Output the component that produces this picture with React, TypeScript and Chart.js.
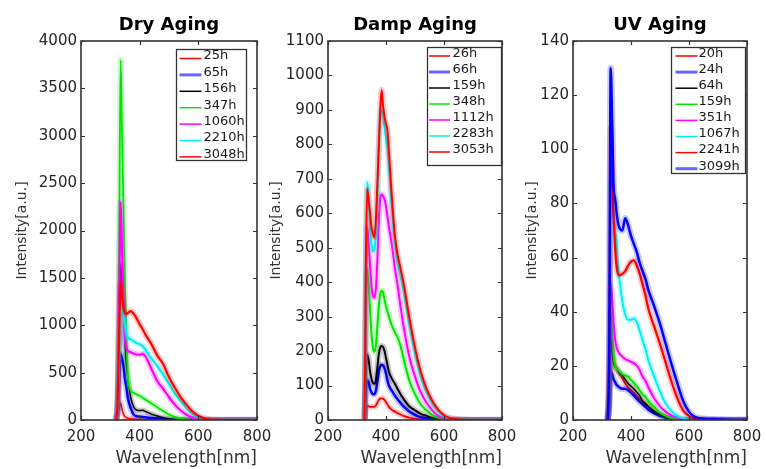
import React, { useEffect, useRef } from "react";
import { Chart, registerables } from "chart.js";
Chart.register(...registerables);

const FONT = "'DejaVu Sans', Verdana, sans-serif";
const W = 766;
const H = 469;
const Y_AXIS_W = 81;
const X_AXIS_H = 49;
const TICK = 4;
const TEXT_COLOR = "#262626";

// ---------- Dry Aging ----------
const dryWavelengths = [320, 325, 330, 335, 340, 345, 350, 355, 360, 370, 380, 390, 400, 410, 420, 440, 460, 480, 500, 520, 540, 560, 580, 600, 620, 640, 660, 700, 750, 800];
const dryLabels = ["25h", "65h", "156h", "347h", "1060h", "2210h", "3048h"];
const dry25h = [0, 50, 120, 180, 110, 60, 35, 25, 20, 14, 10, 8, 6, 5, 4, 3, 2, 1, 0, 0, 0, 0, 0, 0, 0, 0, 0, 0, 0, 0];
const dry65h = [0, 100, 400, 700, 650, 560, 430, 340, 230, 120, 55, 40, 35, 32, 28, 22, 15, 8, 4, 1, 0, 0, 0, 0, 0, 0, 0, 0, 0, 0];
const dry156h = [0, 150, 800, 1650, 1450, 1250, 800, 580, 430, 230, 135, 105, 100, 102, 90, 62, 42, 25, 12, 5, 2, 0, 0, 0, 0, 0, 0, 0, 0, 0];
const dry347h = [0, 300, 1800, 3800, 3000, 2200, 1400, 850, 450, 310, 285, 270, 255, 235, 215, 175, 135, 95, 58, 32, 15, 6, 2, 0, 0, 0, 0, 0, 0, 0];
const dry1060h = [0, 200, 1200, 2300, 1800, 1200, 850, 760, 730, 715, 700, 690, 690, 700, 670, 540, 410, 330, 240, 160, 100, 55, 28, 10, 3, 0, 0, 0, 0, 0];
const dry2210h = [0, 150, 700, 1200, 1170, 1100, 1000, 910, 870, 850, 830, 810, 800, 780, 740, 650, 570, 480, 380, 280, 200, 120, 65, 25, 8, 2, 0, 0, 0, 0];
const dry3048h = [0, 200, 900, 1450, 1300, 1180, 1130, 1120, 1130, 1150, 1120, 1070, 1010, 960, 900, 800, 680, 590, 450, 340, 240, 160, 90, 45, 18, 5, 2, 0, 0, 0];

// ---------- Damp Aging ----------
const dampWavelengths = [320, 326, 330, 335, 340, 345, 350, 355, 360, 365, 370, 375, 380, 385, 390, 395, 400, 405, 410, 420, 430, 440, 450, 460, 480, 500, 520, 540, 560, 580, 600, 620, 650, 700, 750, 800];
const dampLabels = ["26h", "66h", "159h", "348h", "1112h", "2283h", "3053h"];
const damp26h = [0, 0, 25, 40, 40, 38, 38, 38, 38, 42, 50, 58, 62, 63, 62, 58, 52, 45, 38, 30, 25, 20, 16, 12, 7, 4, 2, 1, 0, 0, 0, 0, 0, 0, 0, 0];
const damp66h = [0, 0, 80, 115, 110, 90, 80, 75, 75, 85, 110, 140, 155, 160, 158, 150, 135, 115, 100, 85, 72, 60, 50, 40, 25, 15, 8, 5, 2, 1, 0, 0, 0, 0, 0, 0];
const damp159h = [0, 0, 120, 190, 175, 140, 120, 108, 105, 115, 150, 190, 210, 215, 212, 200, 180, 160, 140, 120, 106, 90, 75, 62, 40, 28, 18, 12, 6, 3, 1, 0, 0, 0, 0, 0];
const damp348h = [0, 0, 250, 440, 400, 320, 250, 210, 198, 215, 270, 330, 365, 375, 370, 350, 330, 315, 300, 275, 255, 240, 215, 180, 115, 75, 45, 28, 14, 7, 2, 0, 0, 0, 0, 0];
const damp1112h = [0, 0, 300, 560, 520, 450, 390, 360, 355, 380, 460, 570, 640, 655, 650, 640, 620, 590, 560, 510, 445, 390, 330, 275, 185, 126, 80, 50, 28, 12, 5, 2, 0, 0, 0, 0];
const damp2283h = [0, 0, 400, 690, 650, 560, 510, 490, 495, 540, 640, 780, 880, 900, 880, 850, 820, 790, 740, 620, 520, 460, 420, 380, 280, 195, 125, 80, 48, 25, 12, 5, 2, 0, 0, 0];
const damp3053h = [0, 0, 400, 670, 640, 600, 560, 540, 530, 580, 680, 790, 900, 958, 910, 880, 860, 840, 780, 650, 540, 480, 440, 400, 300, 210, 140, 90, 55, 30, 14, 6, 2, 0, 0, 0];

// ---------- UV Aging ----------
const uvWavelengths = [320, 325, 330, 335, 340, 345, 350, 355, 360, 370, 380, 390, 400, 410, 420, 430, 440, 450, 460, 480, 500, 520, 540, 560, 580, 600, 620, 650, 700, 750, 800];
const uvLabels = ["20h", "24h", "64h", "159h", "351h", "1067h", "2241h", "3099h"];
const uv20h = [0, 7, 33, 26, 22, 20, 19, 18.5, 17, 15.5, 13.5, 12, 11, 10, 8.8, 7.8, 6.8, 6, 5, 3.2, 1.8, 1, 0.5, 0, 0, 0, 0, 0, 0, 0, 0];
const uv24h = [0, 5, 18, 17, 15, 14, 13, 12.5, 12, 11.5, 11.5, 11, 10, 9, 7.8, 6.8, 5.8, 4.8, 3.8, 2.5, 1.5, 0.8, 0.4, 0, 0, 0, 0, 0, 0, 0, 0];
const uv64h = [0, 7, 30, 25, 21, 19.5, 19, 18, 17.5, 16.5, 15, 13.5, 12.5, 11.5, 10.3, 9, 7, 6, 5, 3.2, 2, 1, 0.5, 0, 0, 0, 0, 0, 0, 0, 0];
const uv159h = [0, 8, 40, 33, 24, 20, 19, 18.5, 18, 17, 16.5, 16, 14.8, 13.6, 12.4, 11, 9.5, 8.5, 7, 4.8, 2.8, 1.5, 0.7, 0.3, 0, 0, 0, 0, 0, 0, 0];
const uv351h = [0, 10, 50, 45, 36, 30, 27, 25.5, 24.5, 23.5, 22.5, 22, 21.5, 21, 20, 18.5, 16, 14.5, 12, 8, 5, 3, 1.7, 0.8, 0.3, 0, 0, 0, 0, 0, 0];
const uv1067h = [0, 15, 88, 82, 75, 70, 65, 57, 52, 44, 39, 37, 37, 37.5, 36, 33, 29.5, 26, 22, 16, 10.5, 6, 3.3, 1.5, 0.6, 0.2, 0, 0, 0, 0, 0];
const uv2241h = [0, 20, 108, 90, 75, 64, 57, 54, 53.5, 54, 55, 57, 58.5, 59, 57, 54, 50, 46, 41, 34.5, 28, 21, 14, 8, 3.5, 1.5, 0.5, 0.2, 0, 0, 0];
const uv3099h = [0, 25, 130, 110, 86, 82, 77, 73, 71, 70, 74.5, 72, 68, 65, 62, 58, 55, 52, 48, 42, 35.5, 28, 20.5, 13.5, 7, 3, 1.2, 0.5, 0.2, 0, 0];

// ---------- Axes ----------
const xMin = 200;
const xMax = 800;
const xStep = 200;
const dryYMax = 4000;
const dryYStep = 500;
const dampYMax = 1100;
const dampYStep = 100;
const uvYMax = 140;
const uvYStep = 20;

// ---------- Styles ----------
const RED = "#ff0000";
const BLUE = "#0000ff";
const BLACK = "#000000";
const GREEN = "#00e600";
const MAGENTA = "#ff00ff";
const CYAN = "#00f0f0";

type Series = { label: string; values: number[]; color: string; width: number };
type LegendLayout = { dx: number; dy: number; w: number; h: number; first: number; row: number; lineX: number; lineLen: number; textX: number };
type PanelDef = {
  key: string;
  title: string;
  x: number[];
  series: Series[];
  yMax: number;
  yStep: number;
  areaLeft: number;
  areaRight: number;
  yTitleX: number;
  legend: LegendLayout;
};

const panels: PanelDef[] = [
  {
    key: "dry",
    title: "Dry Aging",
    x: dryWavelengths,
    series: [
      { label: dryLabels[0], values: dry25h, color: RED, width: 1.5 },
      { label: dryLabels[1], values: dry65h, color: BLUE, width: 2.5 },
      { label: dryLabels[2], values: dry156h, color: BLACK, width: 1.5 },
      { label: dryLabels[3], values: dry347h, color: GREEN, width: 1.8 },
      { label: dryLabels[4], values: dry1060h, color: MAGENTA, width: 2.2 },
      { label: dryLabels[5], values: dry2210h, color: CYAN, width: 2.2 },
      { label: dryLabels[6], values: dry3048h, color: RED, width: 2.2 },
    ],
    yMax: dryYMax,
    yStep: dryYStep,
    areaLeft: 81,
    areaRight: 257,
    yTitleX: 22,
    legend: { dx: 95, dy: 8, w: 70, h: 111, first: 6.5, row: 16.4, lineX: 3, lineLen: 22, textX: 27 },
  },
  {
    key: "damp",
    title: "Damp Aging",
    x: dampWavelengths,
    series: [
      { label: dampLabels[0], values: damp26h, color: RED, width: 1.8 },
      { label: dampLabels[1], values: damp66h, color: BLUE, width: 2.5 },
      { label: dampLabels[2], values: damp159h, color: BLACK, width: 2 },
      { label: dampLabels[3], values: damp348h, color: GREEN, width: 2 },
      { label: dampLabels[4], values: damp1112h, color: MAGENTA, width: 2 },
      { label: dampLabels[5], values: damp2283h, color: CYAN, width: 2 },
      { label: dampLabels[6], values: damp3053h, color: RED, width: 2 },
    ],
    yMax: dampYMax,
    yStep: dampYStep,
    areaLeft: 328,
    areaRight: 502,
    yTitleX: 276,
    legend: { dx: 99, dy: 6, w: 74, h: 118, first: 6, row: 16, lineX: 1.5, lineLen: 21, textX: 25 },
  },
  {
    key: "uv",
    title: "UV Aging",
    x: uvWavelengths,
    series: [
      { label: uvLabels[0], values: uv20h, color: RED, width: 1.8 },
      { label: uvLabels[1], values: uv24h, color: BLUE, width: 2.5 },
      { label: uvLabels[2], values: uv64h, color: BLACK, width: 1.5 },
      { label: uvLabels[3], values: uv159h, color: GREEN, width: 2 },
      { label: uvLabels[4], values: uv351h, color: MAGENTA, width: 2 },
      { label: uvLabels[5], values: uv1067h, color: CYAN, width: 2 },
      { label: uvLabels[6], values: uv2241h, color: RED, width: 2.2 },
      { label: uvLabels[7], values: uv3099h, color: BLUE, width: 2.5 },
    ],
    yMax: uvYMax,
    yStep: uvYStep,
    areaLeft: 573,
    areaRight: 747,
    yTitleX: 532,
    legend: { dx: 98, dy: 6, w: 74, h: 126, first: 6, row: 16.1, lineX: 4, lineLen: 22, textX: 27 },
  },
];

function withAlpha(hex: string, a: number) {
  const r = parseInt(hex.slice(1, 3), 16);
  const g = parseInt(hex.slice(3, 5), 16);
  const b = parseInt(hex.slice(5, 7), 16);
  return `rgba(${r},${g},${b},${a})`;
}

function framePlugin(p: PanelDef) {
  return {
    id: "frame-" + p.key,
    afterDraw(chart: any) {
      const { ctx, chartArea: a, scales } = chart;
      const xs = scales.x;
      const ys = scales.y;
      ctx.save();
      // inward ticks on all four sides
      ctx.strokeStyle = "#333";
      ctx.lineWidth = 1.2;
      ctx.beginPath();
      for (const t of ys.ticks) {
        const py = Math.round(ys.getPixelForValue(t.value)) + 0.5;
        ctx.moveTo(a.left, py);
        ctx.lineTo(a.left + TICK, py);
        ctx.moveTo(a.right, py);
        ctx.lineTo(a.right - TICK, py);
      }
      for (const t of xs.ticks) {
        const px = Math.round(xs.getPixelForValue(t.value)) + 0.5;
        ctx.moveTo(px, a.bottom);
        ctx.lineTo(px, a.bottom - TICK);
        ctx.moveTo(px, a.top);
        ctx.lineTo(px, a.top + TICK);
      }
      ctx.stroke();
      // box
      ctx.lineWidth = 1.6;
      ctx.strokeStyle = "#333";
      ctx.strokeRect(a.left, a.top, a.right - a.left, a.bottom - a.top);
      // legend
      const L = p.legend;
      const bx = Math.round(a.left + L.dx) + 0.5;
      const by = Math.round(a.top + L.dy) + 0.5;
      ctx.fillStyle = "#ffffff";
      ctx.fillRect(bx, by, L.w, L.h);
      ctx.strokeStyle = "#333";
      ctx.lineWidth = 1.3;
      ctx.strokeRect(bx, by, L.w, L.h);
      ctx.font = `13px ${FONT}`;
      ctx.textAlign = "left";
      ctx.textBaseline = "middle";
      p.series.forEach((s, i) => {
        const cy = by + L.first + i * L.row;
        ctx.strokeStyle = s.width > 2.3 ? withAlpha(s.color, 0.6) : s.color;
        ctx.lineWidth = s.width > 2.3 ? 3 : 1.5;
        ctx.beginPath();
        ctx.moveTo(bx + L.lineX, cy + 2.5);
        ctx.lineTo(bx + L.lineX + L.lineLen, cy + 2.5);
        ctx.stroke();
        ctx.fillStyle = "#1a1a1a";
        ctx.fillText(s.label, bx + L.textX, cy);
      });
      ctx.restore();
    },
  };
}

function buildConfig(p: PanelDef): any {
  const n = p.series.length;
  const datasets: any[] = [];
  p.series.forEach((s, i) => {
    const pts = p.x.map((x, k) => ({ x, y: s.values[k] }));
    datasets.push({
      label: s.label + " band",
      data: pts,
      borderColor: withAlpha(s.color, 0.22),
      borderWidth: s.width + 4,
      order: 2 * (n - i) + 1,
    });
    datasets.push({
      label: s.label,
      data: pts,
      borderColor: s.color,
      borderWidth: s.width,
      order: 2 * (n - i),
    });
  });
  const axisLeft = p.areaLeft - Y_AXIS_W;
  const yTitleFont = 14;
  return {
    type: "line",
    data: { datasets },
    options: {
      animation: false,
      responsive: false,
      devicePixelRatio: 1,
      events: [],
      layout: { padding: { left: axisLeft, right: W - p.areaRight, top: 0, bottom: 0 } },
      elements: {
        point: { radius: 0 },
        line: { cubicInterpolationMode: "monotone", fill: false },
      },
      plugins: {
        legend: { display: false },
        tooltip: { enabled: false },
        title: {
          display: true,
          text: p.title,
          fullSize: false,
          color: "#000",
          font: { family: FONT, size: 18, weight: "bold", lineHeight: 1.2 },
          padding: { top: 15, bottom: 4.4 },
        },
      },
      scales: {
        x: {
          type: "linear",
          min: xMin,
          max: xMax,
          grid: { display: false, drawTicks: false },
          border: { display: false },
          ticks: {
            stepSize: xStep,
            padding: 8,
            color: TEXT_COLOR,
            font: { family: FONT, size: 15, lineHeight: 1.2 },
            maxRotation: 0,
            autoSkip: false,
            callback: (v: number) => String(v),
          },
          title: {
            display: true,
            text: "Wavelength[nm]",
            align: "end",
            color: "#333",
            font: { family: FONT, size: 17, lineHeight: 1.2 },
            padding: { top: 0, bottom: 0 },
          },
          afterFit: (s: any) => {
            s.height = X_AXIS_H;
            s.paddingLeft = 0;
            s.paddingRight = 0;
          },
        },
        y: {
          type: "linear",
          min: 0,
          max: p.yMax,
          grid: { display: false, drawTicks: false },
          border: { display: false },
          ticks: {
            stepSize: p.yStep,
            padding: 4,
            color: TEXT_COLOR,
            font: { family: FONT, size: 15, lineHeight: 1.2 },
            callback: (v: number) => String(v),
          },
          title: {
            display: true,
            text: "Intensity[a.u.]",
            color: "#333",
            font: { family: FONT, size: yTitleFont, lineHeight: 1.2 },
            padding: { top: p.yTitleX - axisLeft - (yTitleFont * 1.2) / 2, bottom: 0 },
          },
          afterFit: (s: any) => {
            s.width = Y_AXIS_W;
            s.paddingTop = 0;
            s.paddingBottom = 0;
          },
        },
      },
    },
    plugins: [framePlugin(p)],
  };
}

function PanelChart({ panel }: { panel: PanelDef }) {
  const ref = useRef<HTMLCanvasElement | null>(null);
  useEffect(() => {
    if (!ref.current) return;
    const chart = new Chart(ref.current, buildConfig(panel));
    return () => chart.destroy();
  }, [panel]);
  return (
    <canvas
      ref={ref}
      width={W}
      height={H}
      style={{ position: "absolute", left: 0, top: 0, width: W, height: H }}
    />
  );
}

export default function App() {
  return (
    <div style={{ position: "fixed", left: 0, top: 0, width: W, height: H, background: "#ffffff", overflow: "hidden" }}>
      {panels.map((p) => (
        <PanelChart key={p.key} panel={p} />
      ))}
    </div>
  );
}
